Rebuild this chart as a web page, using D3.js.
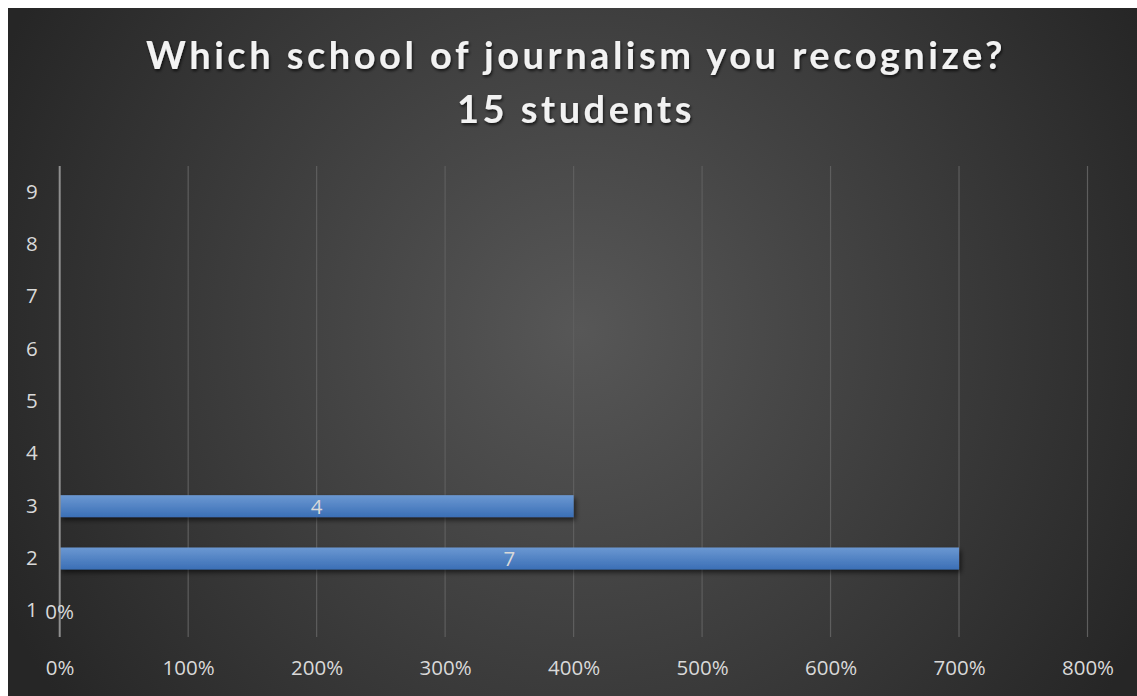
<!DOCTYPE html>
<html>
<head>
<meta charset="utf-8">
<script src="https://cdn.jsdelivr.net/npm/d3@7"></script>
<style>
  html, body { margin: 0; padding: 0; background: #ffffff; }
  svg { display: block; }
</style>
</head>
<body>
<svg id="chart" width="1137" height="696"></svg>
<script>
// Survey answers: which school of journalism the students recognize
const titleLines = ["Which school of journalism you recognize?", "15 students"];
const categories = ["1", "2", "3", "4", "5", "6", "7", "8", "9"];
const values = [0, 7, 4, null, null, null, null, null, null];
const valueLabels = ["0%", "7", "4", "", "", "", "", "", ""];
const xTicks = [0, 1, 2, 3, 4, 5, 6, 7, 8];
const xTickLabels = ["0%", "100%", "200%", "300%", "400%", "500%", "600%", "700%", "800%"];

const W = 1137, H = 696;
const frame = { left: 8, top: 8 };
const plot = { left: 59.7, right: 1087.5, top: 166, bottom: 637 };
const labelFont = "'Open Sans', sans-serif";
const labelSize = "20.5px";

const svg = d3.select("#chart");
const defs = svg.append("defs");

// Dark radial backdrop
const bg = defs.append("radialGradient")
  .attr("id", "bgGrad")
  .attr("gradientUnits", "userSpaceOnUse")
  .attr("cx", 580).attr("cy", 330).attr("r", 640);
bg.append("stop").attr("offset", "0%").attr("stop-color", "#575757");
bg.append("stop").attr("offset", "100%").attr("stop-color", "#262626");

// Bar fill: lighter at the top edge
const barGrad = defs.append("linearGradient")
  .attr("id", "barGrad").attr("x1", 0).attr("y1", 0).attr("x2", 0).attr("y2", 1);
barGrad.append("stop").attr("offset", "0%").attr("stop-color", "#6b98d2");
barGrad.append("stop").attr("offset", "100%").attr("stop-color", "#3b6fb6");

const barShadow = defs.append("filter").attr("id", "barShadow")
  .attr("x", "-5%").attr("y", "-40%").attr("width", "110%").attr("height", "200%");
barShadow.append("feDropShadow")
  .attr("dx", 2).attr("dy", 3).attr("stdDeviation", 2.5)
  .attr("flood-color", "#000").attr("flood-opacity", 0.6);

const titleShadow = defs.append("filter").attr("id", "titleShadow")
  .attr("x", "-5%").attr("y", "-30%").attr("width", "110%").attr("height", "160%");
titleShadow.append("feDropShadow")
  .attr("dx", 1).attr("dy", 2).attr("stdDeviation", 1.5)
  .attr("flood-color", "#000").attr("flood-opacity", 0.7);

svg.append("rect")
  .attr("x", frame.left).attr("y", frame.top)
  .attr("width", W - frame.left).attr("height", H - frame.top)
  .attr("fill", "url(#bgGrad)");

// Scales
const x = d3.scaleLinear().domain([0, 8]).range([plot.left, plot.right]);
const y = d3.scaleBand()
  .domain(categories.slice().reverse())
  .range([plot.top, plot.bottom])
  .paddingInner(0.58)
  .paddingOuter(0.29);

// Vertical gridlines
svg.append("g")
  .selectAll("line")
  .data(xTicks.filter(t => t > 0))
  .join("line")
  .attr("x1", d => x(d)).attr("x2", d => x(d))
  .attr("y1", plot.top).attr("y2", plot.bottom)
  .attr("stroke", "#5e5e5e").attr("stroke-width", 1.2);

// Category axis
const yAxis = svg.append("g")
  .attr("transform", `translate(${plot.left},0)`)
  .call(d3.axisLeft(y).tickSize(0).tickPadding(22));
yAxis.select(".domain").remove();
yAxis.selectAll("text")
  .attr("fill", "#d9d9d9")
  .style("font-family", labelFont)
  .style("font-size", labelSize);

// Value axis labels
const xAxis = svg.append("g")
  .attr("transform", `translate(0,${plot.bottom})`)
  .call(d3.axisBottom(x).tickValues(xTicks).tickFormat((d, i) => xTickLabels[i])
    .tickSize(0).tickPadding(23));
xAxis.select(".domain").remove();
xAxis.selectAll("text")
  .attr("fill", "#d9d9d9")
  .style("font-family", labelFont)
  .style("font-size", labelSize);

// Bars
const rows = categories.map((c, i) => ({ cat: c, value: values[i], label: valueLabels[i] }));
svg.append("g")
  .selectAll("rect")
  .data(rows.filter(d => d.value))
  .join("rect")
  .attr("x", x(0))
  .attr("y", d => y(d.cat))
  .attr("width", d => x(d.value) - x(0))
  .attr("height", y.bandwidth())
  .attr("fill", "url(#barGrad)")
  .attr("filter", "url(#barShadow)");

// Zero line
svg.append("line")
  .attr("x1", x(0)).attr("x2", x(0))
  .attr("y1", plot.top).attr("y2", plot.bottom)
  .attr("stroke", "#8f8f8f").attr("stroke-width", 2);

// Data labels centred on each bar
svg.append("g")
  .selectAll("text")
  .data(rows.filter(d => d.value !== null && d.label))
  .join("text")
  .attr("x", d => (x(0) + x(d.value)) / 2)
  .attr("y", d => y(d.cat) + y.bandwidth() / 2)
  .attr("dy", "0.38em")
  .attr("text-anchor", "middle")
  .attr("fill", "#d9d9d9")
  .style("font-family", labelFont)
  .style("font-size", labelSize)
  .text(d => d.label);

// Title
svg.append("text")
  .attr("text-anchor", "middle")
  .attr("fill", "#f2f2f2")
  .attr("filter", "url(#titleShadow)")
  .style("font-family", "Lato, sans-serif")
  .style("font-weight", "bold")
  .style("font-size", "38px")
  .style("letter-spacing", "3.5px")
  .selectAll("tspan")
  .data(titleLines)
  .join("tspan")
  .attr("x", 576)
  .attr("y", (d, i) => 69 + i * 54)
  .text(d => d);
</script>
</body>
</html>
